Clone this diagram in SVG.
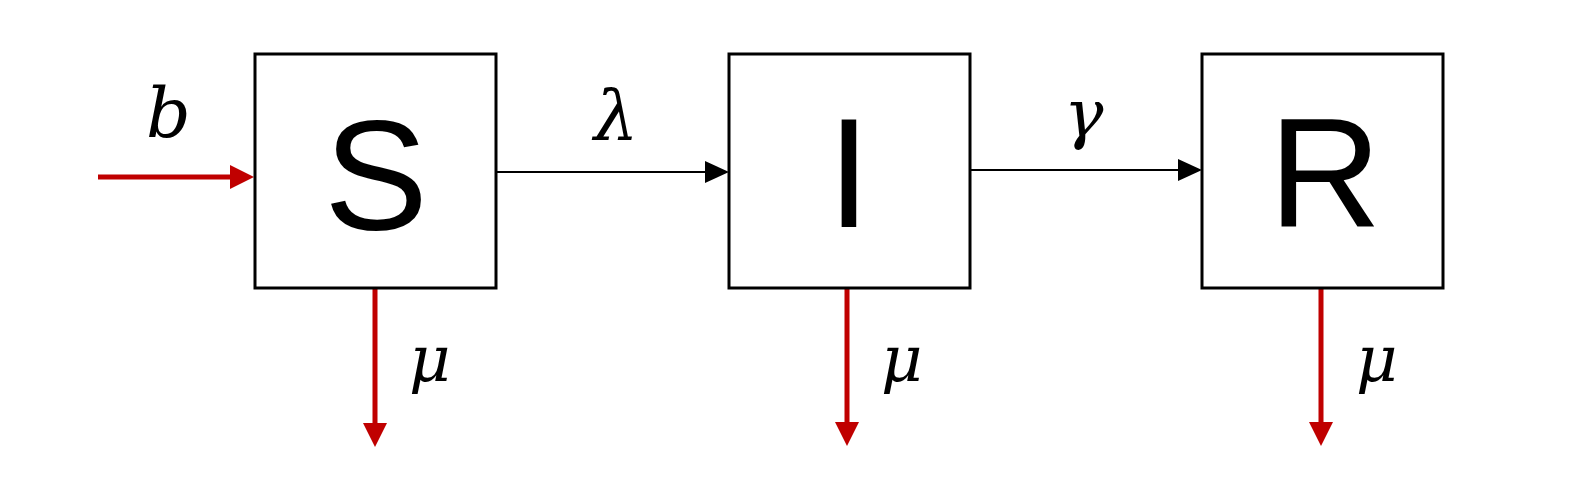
<svg xmlns="http://www.w3.org/2000/svg" width="1590" height="498" viewBox="0 0 1590 498">
<style>
.box{fill:#fff;stroke:#000;stroke-width:3}
.lbl{font-family:"Liberation Sans",Arial,sans-serif;font-size:156px;fill:#000;text-anchor:middle}
.math{font-family:"DejaVu Serif",serif;font-style:italic;font-size:64px;fill:#000}
.blk{stroke:#000;stroke-width:2;fill:none}
.red{stroke:#c00000;stroke-width:5;fill:none}
</style>
<defs>
<marker id="ab" viewBox="0 0 24 22" refX="4" refY="11" markerWidth="24" markerHeight="22" markerUnits="userSpaceOnUse" orient="auto"><path d="M0,0L24,11L0,22z" fill="#000"/></marker>
<marker id="ar" viewBox="0 0 24 24" refX="4" refY="12" markerWidth="24" markerHeight="24" markerUnits="userSpaceOnUse" orient="auto"><path d="M0,0L24,12L0,24z" fill="#c00000"/></marker>
</defs>
<rect width="1590" height="498" fill="#fff"/>
<g id="connectors">
<line class="red" x1="98" y1="177" x2="234" y2="177" marker-end="url(#ar)"/>
<line class="blk" x1="497" y1="172" x2="709" y2="172" marker-end="url(#ab)"/>
<line class="blk" x1="971" y1="170" x2="1182" y2="170" marker-end="url(#ab)"/>
<line class="red" x1="375" y1="289" x2="375" y2="427" marker-end="url(#ar)"/>
<line class="red" x1="847" y1="289" x2="847" y2="426" marker-end="url(#ar)"/>
<line class="red" x1="1321" y1="289" x2="1321" y2="426" marker-end="url(#ar)"/>
<text class="math" x="146" y="137" style="font-size:70px">b</text>
<text class="math" x="594" y="140" style="font-size:70px">λ</text>
<text class="math" x="1064" y="136" style="font-size:66px">γ</text>
<text class="math" x="409" y="381">μ</text>
<text class="math" x="881" y="381">μ</text>
<text class="math" x="1356" y="381">μ</text>
</g>
<g id="node-S"><rect class="box" x="255" y="54" width="241" height="234"/><text class="lbl" x="376" y="229">S</text></g>
<g id="node-I"><rect class="box" x="729" y="54" width="241" height="234"/><text class="lbl" x="849" y="227">I</text></g>
<g id="node-R"><rect class="box" x="1202" y="54" width="241" height="234"/><text class="lbl" x="1325" y="227">R</text></g>
</svg>
